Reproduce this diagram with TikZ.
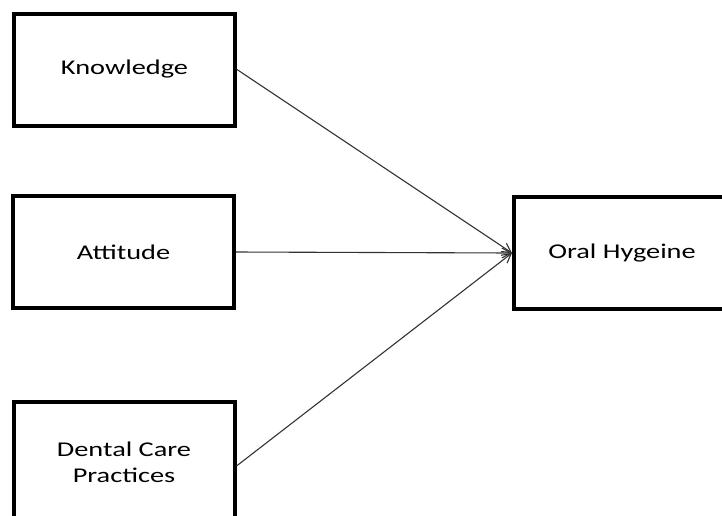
\documentclass[tikz,border=0pt]{standalone}
\usepackage{fontspec}
\setmainfont[FakeStretch=1.35]{Carlito}
\usetikzlibrary{arrows.meta,positioning}

\begin{document}
\begin{tikzpicture}[x=1pt, y=-1pt, >={Straight Barb[length=9pt,width=10pt]},
      factor/.style={rectangle,draw=black,line width=4pt,minimum width=221pt,minimum height=112pt,align=center,font=\fontsize{21}{26}\selectfont},
      outcome/.style={factor,minimum width=216pt}]
    \useasboundingbox (0,0) rectangle (722,515);
    \node[factor] at (124.5,69.5) (know) {Knowledge};
    \node[factor] at (123.5,252) (att) {Attitude};
    \node[factor,minimum height=120pt] at (124,462) (dent) {Dental Care\\Practices};
    \node[outcome] at (622,253) (oral) {Oral Hygeine};
    \draw[line width=1.1pt,black!80,->] (know.east) -- (oral.west);
    \draw[line width=1.1pt,black!80,->] (att.east) -- (oral.west);
    \draw[line width=1.1pt,black!80,->] ([yshift=-4pt]dent.east) -- (oral.west);
\end{tikzpicture}
\end{document}
